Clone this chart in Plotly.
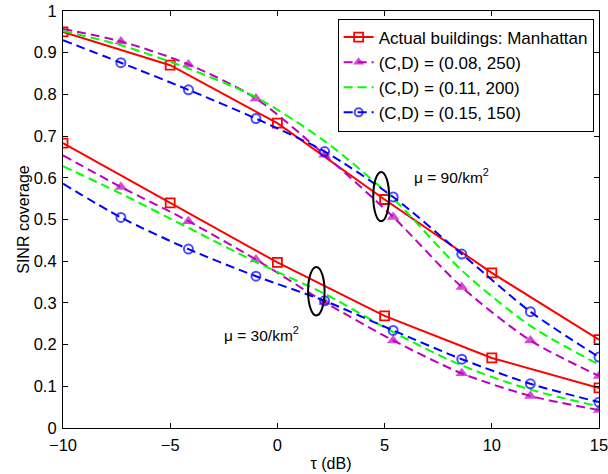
import plotly.graph_objects as go

# SINR coverage vs SINR threshold tau (dB)
tau_actual = [-10, -5, 0, 5, 10, 15]
actual_hi = [0.950, 0.870, 0.731, 0.548, 0.372, 0.212]   # mu = 90/km^2
actual_lo = [0.683, 0.540, 0.397, 0.269, 0.168, 0.096]   # mu = 30/km^2

tau_model = [-10, -7.3, -4.15, -1.0, 2.2, 5.4, 8.6, 11.8, 15]
c008_hi = [0.957, 0.927, 0.872, 0.790, 0.655, 0.506, 0.338, 0.210, 0.125]
c011_hi = [0.952, 0.918, 0.862, 0.793, 0.688, 0.550, 0.378, 0.245, 0.152]
c015_hi = [0.930, 0.876, 0.811, 0.742, 0.663, 0.554, 0.417, 0.279, 0.170]
c008_lo = [0.654, 0.578, 0.496, 0.404, 0.302, 0.210, 0.131, 0.077, 0.043]
c011_lo = [0.628, 0.562, 0.480, 0.398, 0.322, 0.230, 0.150, 0.092, 0.052]
c015_lo = [0.586, 0.505, 0.429, 0.364, 0.305, 0.234, 0.165, 0.106, 0.062]

names = ["Actual buildings: Manhattan", "(C,D) = (0.08, 250)",
         "(C,D) = (0.11, 200)", "(C,D) = (0.15, 150)"]

RED, MAG, GRN, BLU = "#ff0000", "#c000c0", "#00ff00", "#0000ff"
FONT = "Liberation Sans, Arial, Helvetica, sans-serif"
DASH = "9px,5px"

fig = go.Figure()

# measured curves (solid red with open squares)
for i, ys in enumerate([actual_hi, actual_lo]):
    fig.add_trace(go.Scatter(
        x=tau_actual, y=ys, mode="lines+markers", name=names[0],
        legendgroup="a", showlegend=(i == 0),
        line=dict(color=RED, width=2),
        marker=dict(symbol="square-open", size=9, color=RED, line=dict(width=1.8, color=RED)),
    ))

# model curves: first point at tau=-10 carries no marker
msize_tri = [0] + [11] * (len(tau_model) - 1)
msize_circ = [0] + [9] * (len(tau_model) - 1)

for i, ys in enumerate([c008_hi, c008_lo]):
    fig.add_trace(go.Scatter(
        x=tau_model, y=ys, mode="lines+markers", name=names[1],
        legendgroup="b", showlegend=(i == 0),
        line=dict(color=MAG, width=2, dash=DASH, shape="spline", smoothing=0.8),
        marker=dict(symbol="triangle-up", size=msize_tri, color=MAG, line=dict(width=0)),
    ))

for i, ys in enumerate([c011_hi, c011_lo]):
    fig.add_trace(go.Scatter(
        x=tau_model, y=ys, mode="lines", name=names[2],
        legendgroup="c", showlegend=(i == 0),
        line=dict(color=GRN, width=2, dash=DASH, shape="spline", smoothing=0.8),
    ))

for i, ys in enumerate([c015_hi, c015_lo]):
    fig.add_trace(go.Scatter(
        x=tau_model, y=ys, mode="lines+markers", name=names[3],
        legendgroup="d", showlegend=(i == 0),
        line=dict(color=BLU, width=2, dash=DASH, shape="spline", smoothing=0.8),
        marker=dict(symbol="circle-open", size=msize_circ, color=BLU, line=dict(width=2, color=BLU)),
    ))

# ellipses grouping the curves of each density
fig.add_shape(type="circle", xref="x", yref="y", x0=4.47, x1=5.21, y0=0.496, y1=0.614,
              line=dict(color="black", width=2))
fig.add_shape(type="circle", xref="x", yref="y", x0=1.43, x1=2.2, y0=0.270, y1=0.386,
              line=dict(color="black", width=2))

fig.add_annotation(x=8.1, y=0.605, xref="x", yref="y", text="μ = 90/km<sup>2</sup>",
                   showarrow=False, font=dict(family=FONT, size=15.5, color="black"))
fig.add_annotation(x=-0.72, y=0.226, xref="x", yref="y", text="μ = 30/km<sup>2</sup>",
                   showarrow=False, font=dict(family=FONT, size=15.5, color="black"))

axis_common = dict(
    showline=True, linecolor="black", linewidth=1.2, mirror="ticks",
    ticks="inside", ticklen=5, tickwidth=1, tickcolor="black",
    showgrid=False, zeroline=False, automargin=True,
    ticklabeloverflow="allow",
    tickfont=dict(family=FONT, size=16.5, color="black"),
)

fig.update_xaxes(range=[-10, 15], tickvals=[-10, -5, 0, 5, 10, 15],
                 ticklabelstandoff=2,
                 title=dict(text="τ (dB)", font=dict(family=FONT, size=16, color="black"), standoff=4),
                 **axis_common)
fig.update_yaxes(range=[0, 1], tickvals=[i / 10 for i in range(11)],
                 ticktext=["0", "0.1", "0.2", "0.3", "0.4", "0.5", "0.6", "0.7", "0.8", "0.9", "1"],
                 ticklabelstandoff=2,
                 title=dict(text="SINR coverage", font=dict(family=FONT, size=16, color="black"), standoff=0),
                 **axis_common)

fig.update_layout(
    width=608, height=474,
    margin=dict(l=63, r=9, t=11, b=46, autoexpand=False),
    paper_bgcolor="white", plot_bgcolor="white",
    font=dict(family=FONT, color="black"),
    legend=dict(x=0.99, y=0.982, xanchor="right", yanchor="top",
                bgcolor="white", bordercolor="black", borderwidth=1,
                font=dict(family=FONT, size=17, color="black"),
                tracegroupgap=0),
)

fig.write_html("out.html")
